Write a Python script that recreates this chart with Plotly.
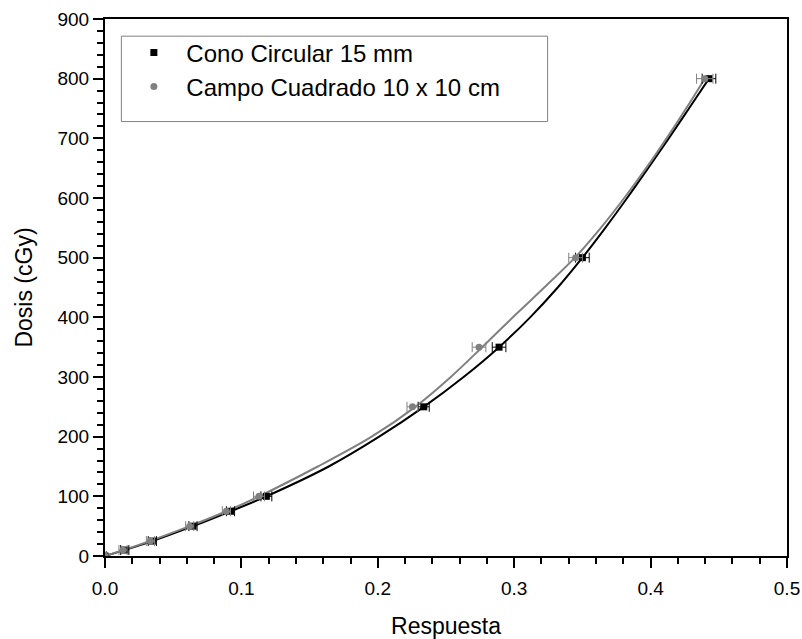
import plotly.graph_objects as go

# Data points
dosis = [0, 10, 25, 50, 75, 100, 250, 350, 500, 800]
resp_cono = [0.0, 0.0145, 0.0347, 0.0645, 0.092, 0.1183, 0.2337, 0.2889, 0.350, 0.4428]
err_cono = [0.001, 0.003, 0.003, 0.003, 0.003, 0.004, 0.004, 0.005, 0.005, 0.005]
resp_campo = [0.0, 0.0132, 0.0333, 0.0621, 0.089, 0.1129, 0.2254, 0.2742, 0.345, 0.4397]
err_campo = [0.001, 0.003, 0.003, 0.003, 0.003, 0.004, 0.004, 0.005, 0.005, 0.006]

# Fitted curves at these doses
fit_dosis = [0, 25, 50, 75, 100, 150, 200, 250, 300, 350, 400, 450, 500,
             550, 600, 650, 700, 750, 800]
fit_cono = [0.0, 0.0347, 0.0645, 0.092, 0.1183, 0.1640, 0.2010, 0.2337, 0.2629, 0.2889,
            0.3117, 0.3319, 0.3500, 0.3668, 0.3828, 0.3982, 0.4133, 0.4281, 0.4428]
fit_campo = [0.0, 0.0328, 0.062, 0.089, 0.113, 0.1560, 0.1955, 0.2275, 0.2535, 0.2765,
             0.2990, 0.3220, 0.3445, 0.3635, 0.3807, 0.3967, 0.4117, 0.4260, 0.4397]

name_cono = "Cono Circular 15 mm"
name_campo = "Campo Cuadrado 10 x 10 cm"
x_title = "Respuesta"
y_title = "Dosis (cGy)"

BLACK = "#000000"
GRAY = "#808080"
FONT = "Liberation Sans, Arial, sans-serif"

fig = go.Figure()

# fitted curves
fig.add_trace(go.Scatter(x=fit_cono, y=fit_dosis, mode="lines",
                         line=dict(color=BLACK, width=2, shape="spline", smoothing=1.0),
                         showlegend=False, hoverinfo="skip"))
fig.add_trace(go.Scatter(x=fit_campo, y=fit_dosis, mode="lines",
                         line=dict(color=GRAY, width=2, shape="spline", smoothing=1.0),
                         showlegend=False, hoverinfo="skip"))

# data points with horizontal error bars
fig.add_trace(go.Scatter(x=resp_cono, y=dosis, mode="markers", name=name_cono,
                         marker=dict(symbol="square", size=7, color=BLACK),
                         error_x=dict(type="data", array=err_cono, visible=True,
                                      color=BLACK, thickness=1, width=5)))
fig.add_trace(go.Scatter(x=resp_campo, y=dosis, mode="markers", name=name_campo,
                         marker=dict(symbol="circle", size=7, color=GRAY),
                         error_x=dict(type="data", array=err_campo, visible=True,
                                      color=GRAY, thickness=1, width=5)))

# legend frame
fig.add_shape(type="rect", xref="paper", yref="paper",
              x0=0.024, x1=0.649, y0=0.809, y1=0.968,
              line=dict(color=GRAY, width=1), fillcolor="white", layer="below")

fig.update_layout(
    width=802, height=639,
    margin=dict(l=105, r=15, t=19, b=83),
    paper_bgcolor="white", plot_bgcolor="white",
    font=dict(family=FONT, color="black", size=19),
    legend=dict(x=0.024, y=0.979, xanchor="left", yanchor="top",
                bgcolor="rgba(0,0,0,0)", borderwidth=0,
                font=dict(size=24, family=FONT), itemwidth=55,
                tracegroupgap=0),
    showlegend=True,
)

fig.update_xaxes(
    range=[0, 0.5], dtick=0.1, tick0=0, tickformat=".1f",
    showgrid=False, zeroline=False, automargin=False,
    showline=True, linecolor="black", linewidth=2, mirror=True,
    ticks="outside", ticklen=10, tickwidth=2, tickcolor="black",
    minor=dict(dtick=0.02, ticks="outside", ticklen=6, tickwidth=2, tickcolor="black"),
    tickfont=dict(size=19), ticklabelstandoff=4,
    title=dict(text=x_title, font=dict(size=23), standoff=20),
)
fig.update_yaxes(
    range=[0, 900], dtick=100, tick0=0,
    showgrid=False, zeroline=False, automargin=False,
    showline=True, linecolor="black", linewidth=2, mirror=True,
    ticks="outside", ticklen=10, tickwidth=2, tickcolor="black",
    minor=dict(dtick=20, ticks="outside", ticklen=6, tickwidth=2, tickcolor="black"),
    tickfont=dict(size=19),
    title=dict(text=y_title, font=dict(size=23), standoff=18),
)

fig.write_html("out.html")
